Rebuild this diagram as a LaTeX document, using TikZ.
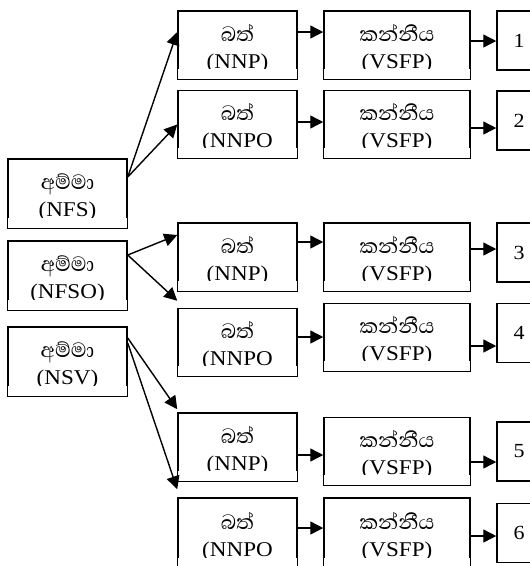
\documentclass[tikz,border=0pt]{standalone}
\usepackage{fontspec}
\setmainfont{Liberation Serif}[FakeStretch=1.1]
\newfontfamily\sinhala[Script=Sinhala,Scale=1.25]{Abhaya Libre}
\usetikzlibrary{arrows.meta}

\tikzset{
  box/.style={draw,line width=1.5pt,inner sep=0pt,minimum height=68pt,align=center,
    font=\fontsize{21}{27}\selectfont,text height=46pt,text depth=0pt},
  nbox/.style={box,minimum width=119pt,minimum height=69pt},
  bat/.style={box,minimum width=119pt},
  kan/.style={box,minimum width=146pt},
  num/.style={draw,line width=1.5pt,inner sep=0pt,minimum width=44pt,minimum height=59pt,
    font=\fontsize{20}{24}\selectfont},
  arr/.style={line width=1.4pt,-{Triangle[length=13pt,width=13pt]}},
}

\begin{document}
\begin{tikzpicture}[x=1pt,y=-1pt]
\useasboundingbox (0,0) rectangle (530,566);
% subject column
\node[nbox] (nfs)  at (67.5,193.5) {{\sinhala අම්මා}\\(NFS)};
\node[nbox] (nfso) at (67.5,275.5) {{\sinhala අම්මා}\\(NFSO)};
\node[nbox] (nsv)  at (67.5,361.5) {{\sinhala අම්මා}\\(NSV)};
% object column
\node[bat] (bat1) at (237.5,45)    {{\sinhala බත්}\\(NNP)};
\node[bat] (bat2) at (237.5,124.5) {{\sinhala බත්}\\(NNPO};
\node[bat] (bat3) at (237.5,257)   {{\sinhala බත්}\\(NNP)};
\node[bat] (bat4) at (237.5,342.5) {{\sinhala බත්}\\(NNPO};
\node[bat] (bat5) at (237.5,447)   {{\sinhala බත්}\\(NNP)};
\node[bat,minimum height=70pt] (bat6) at (237.5,533) {{\sinhala බත්}\\(NNPO};
% verb column
\node[kan] (kan1) at (397,45)    {{\sinhala කන්නීය}\\(VSFP)};
\node[kan] (kan2) at (397,124.5) {{\sinhala කන්නීය}\\(VSFP)};
\node[kan] (kan3) at (397,257)   {{\sinhala කන්නීය}\\(VSFP)};
\node[kan] (kan4) at (397,337.5) {{\sinhala කන්නීය}\\(VSFP)};
\node[kan] (kan5) at (397,451.5) {{\sinhala කන්නීය}\\(VSFP)};
\node[kan,minimum height=70pt] (kan6) at (397,533) {{\sinhala කන්නීය}\\(VSFP)};
% result numbers
\node[num] (n1) at (519,40.5)  {1};
\node[num] (n2) at (519,120.5) {2};
\node[num] (n3) at (519,252.5) {3};
\node[num] (n4) at (519,333)   {4};
\node[num] (n5) at (519,451.5) {5};
\node[num] (n6) at (519,533)   {6};
% cut off the lower line of each label
\foreach \n in {nfs,nfso,nsv,bat1,bat2,bat3,bat4,bat5,bat6,kan1,kan2,kan3,kan4,kan5,kan6}
  \fill[white] ([xshift=1.2pt,yshift=1.2pt]\n.south west) rectangle ([xshift=-1.2pt,yshift=11pt]\n.south east);
% subject to object
\draw[arr] ([yshift=16.5pt]nfs.east) -- ([yshift=13pt]bat1.west);
\draw[arr] ([yshift=16.5pt]nfs.east) -- (bat2.west);
\draw[arr] ([yshift=20.5pt]nfso.east) -- ([yshift=22pt]bat3.west);
\draw[arr] ([yshift=20.5pt]nfso.east) -- ([yshift=7pt]bat4.north west);
\draw[arr] ([yshift=23.5pt]nsv.east) -- ([yshift=3pt]bat5.north west);
\draw[arr] ([yshift=18.5pt]nsv.east) -- ([yshift=8pt]bat6.north west);
% object to verb
\draw[arr] ([yshift=13pt]bat1.east) -- ([yshift=13pt]kan1.west);
\draw[arr] ([yshift=2.5pt]bat2.east) -- ([yshift=2.5pt]kan2.west);
\draw[arr] ([yshift=15pt]bat3.east) -- ([yshift=15pt]kan3.west);
\draw[arr] ([yshift=5.5pt]bat4.east) -- ([yshift=0.5pt]kan4.west);
\draw[arr] ([yshift=-8pt]bat5.east) -- ([yshift=-3.5pt]kan5.west);
\draw[arr] ([yshift=5pt]bat6.east) -- ([yshift=5pt]kan6.west);
% verb to number
\draw[arr] ([yshift=4pt]kan1.east) -- ([yshift=-0.5pt]n1.west);
\draw[arr] ([yshift=-3.5pt]kan2.east) -- ([yshift=-7.5pt]n2.west);
\draw[arr] ([yshift=8pt]kan3.east) -- ([yshift=3.5pt]n3.west);
\draw[arr] ([yshift=-8.5pt]kan4.east) -- ([yshift=-13pt]n4.west);
\draw[arr] ([yshift=-10.5pt]kan5.east) -- ([yshift=-10.5pt]n5.west);
\draw[arr] ([yshift=-3pt]kan6.east) -- ([yshift=-3pt]n6.west);
\end{tikzpicture}
\end{document}
